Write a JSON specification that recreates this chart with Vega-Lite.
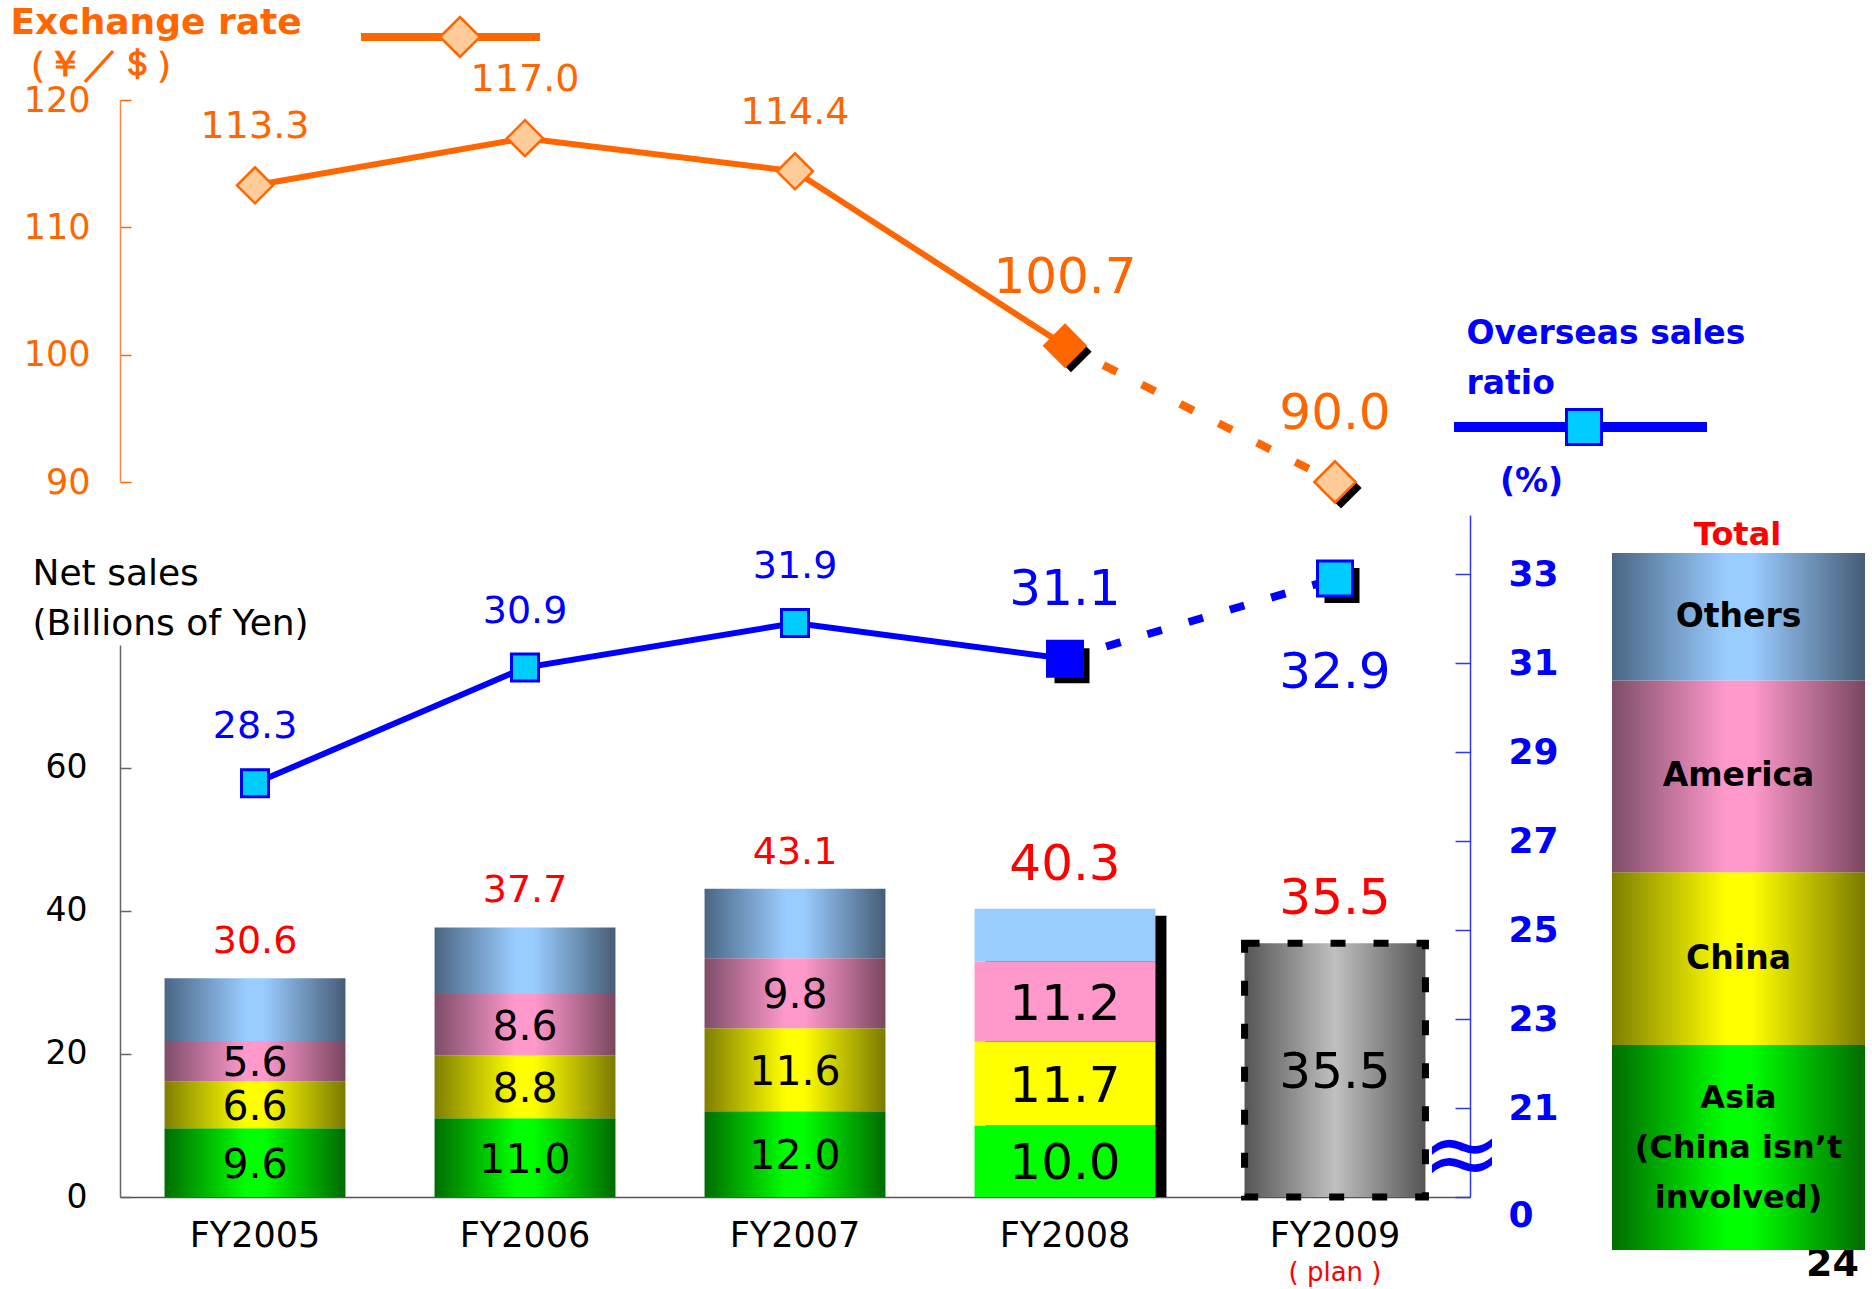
{
  "$schema": "https://vega.github.io/schema/vega-lite/v6.json",
  "width": 1350,
  "height": 1097,
  "autosize": {"type": "none"},
  "padding": {"left": 120, "top": 100, "right": 402, "bottom": 92},
  "background": "white",
  "config": {"font": "DejaVu Sans", "view": {"stroke": null}, "axis": {"grid": false}, "legend": {"padding": 0}},
  "datasets": {
    "years": [
      {"fy": "FY2005", "rate": 113.3, "ratio": 28.3, "total": 30.6, "status": "actual"},
      {"fy": "FY2006", "rate": 117.0, "ratio": 30.9, "total": 37.7, "status": "actual"},
      {"fy": "FY2007", "rate": 114.4, "ratio": 31.9, "total": 43.1, "status": "actual"},
      {"fy": "FY2008", "rate": 100.7, "ratio": 31.1, "total": 40.3, "status": "latest"},
      {"fy": "FY2009", "rate": 90.0, "ratio": 32.9, "total": 35.5, "status": "plan"}
    ],
    "sales": [
      {"fy": "FY2005", "region": "Asia", "value": 9.6},
      {"fy": "FY2005", "region": "China", "value": 6.6},
      {"fy": "FY2005", "region": "America", "value": 5.6},
      {"fy": "FY2005", "region": "Others", "value": 8.8},
      {"fy": "FY2006", "region": "Asia", "value": 11.0},
      {"fy": "FY2006", "region": "China", "value": 8.8},
      {"fy": "FY2006", "region": "America", "value": 8.6},
      {"fy": "FY2006", "region": "Others", "value": 9.3},
      {"fy": "FY2007", "region": "Asia", "value": 12.0},
      {"fy": "FY2007", "region": "China", "value": 11.6},
      {"fy": "FY2007", "region": "America", "value": 9.8},
      {"fy": "FY2007", "region": "Others", "value": 9.7},
      {"fy": "FY2008", "region": "Asia", "value": 10.0},
      {"fy": "FY2008", "region": "China", "value": 11.7},
      {"fy": "FY2008", "region": "America", "value": 11.2},
      {"fy": "FY2008", "region": "Others", "value": 7.4},
      {"fy": "FY2009", "region": "Total", "value": 35.5}
    ],
    "regions": [
      {"region": "Asia", "label": "Asia\n(China isn’t\ninvolved)", "share": 29.4},
      {"region": "China", "label": "China", "share": 24.8},
      {"region": "America", "label": "America", "share": 27.5},
      {"region": "Others", "label": "Others", "share": 18.3}
    ]
  },
  "resolve": {
    "scale": {"x": "independent", "y": "independent", "fill": "independent", "stroke": "independent"},
    "axis": {"x": "independent", "y": "independent"},
    "legend": {"fill": "independent", "stroke": "independent"}
  },
  "layer": [
    {
      "data": {"name": "sales"},
      "encoding": {
        "x": {"field": "fy", "type": "nominal",
          "scale": {"type": "band", "domain": ["FY2005", "FY2006", "FY2007", "FY2008", "FY2009"], "paddingInner": 0.33, "paddingOuter": 0.165},
          "axis": {"orient": "bottom", "title": null, "ticks": false, "domain": true, "domainColor": "#555555", "domainWidth": 1.5, "labelFontSize": 35, "labelPadding": 21, "labelColor": "#000000", "labelAngle": 0}}
      },
      "layer": [
        {
          "data": {"name": "years"},
          "transform": [{"filter": "datum.status === 'latest'"}],
          "mark": {"type": "bar", "color": "#000000", "xOffset": 11, "yOffset": 7, "clip": true},
          "encoding": {
            "y": {"field": "total", "type": "quantitative",
              "scale": {"domain": [0, 77.2], "range": [1097, 545], "zero": false, "nice": false},
              "axis": {"orient": "left", "values": [0, 20, 40, 60], "tickSize": -11, "tickWidth": 1.5, "tickColor": "#666666", "domainColor": "#666666", "domainWidth": 1.5, "labelPadding": 44, "labelFontSize": 33, "labelColor": "#000000", "grid": false,
                "title": ["Net sales", "(Billions of Yen)"], "titleX": -88, "titleY": 484, "titleAngle": 0, "titleAlign": "left", "titleBaseline": "alphabetic", "titleFontSize": 36, "titleFontWeight": "normal", "titleColor": "#000000", "titleLineHeight": 50, "titleLimit": 2000}}
          }
        },
        {
          "transform": [{"stack": "value", "groupby": ["fy"], "as": ["v0", "v1"]}, {"filter": "datum.region === 'Asia'"}],
          "mark": {"type": "bar"},
          "encoding": {
            "y": {"field": "v1", "type": "quantitative", "scale": {"domain": [0, 77.2], "range": [1097, 545], "zero": false, "nice": false}},
            "y2": {"field": "v0"},
            "fill": {"condition": {"test": "datum.fy === 'FY2008'", "value": "#00ff00"},
              "value": {"gradient": "linear", "x1": 0, "y1": 0, "x2": 1, "y2": 0, "stops": [{"offset": 0, "color": "#006d00"}, {"offset": 0.45, "color": "#00ff00"}, {"offset": 0.55, "color": "#00ff00"}, {"offset": 1, "color": "#006b00"}]}}
          }
        },
        {
          "transform": [{"stack": "value", "groupby": ["fy"], "as": ["v0", "v1"]}, {"filter": "datum.region === 'China'"}],
          "mark": {"type": "bar"},
          "encoding": {
            "y": {"field": "v1", "type": "quantitative", "scale": {"domain": [0, 77.2], "range": [1097, 545], "zero": false, "nice": false}},
            "y2": {"field": "v0"},
            "fill": {"condition": {"test": "datum.fy === 'FY2008'", "value": "#ffff00"},
              "value": {"gradient": "linear", "x1": 0, "y1": 0, "x2": 1, "y2": 0, "stops": [{"offset": 0, "color": "#7f7f00"}, {"offset": 0.45, "color": "#ffff00"}, {"offset": 0.55, "color": "#ffff00"}, {"offset": 1, "color": "#7a7a00"}]}}
          }
        },
        {
          "transform": [{"stack": "value", "groupby": ["fy"], "as": ["v0", "v1"]}, {"filter": "datum.region === 'America'"}],
          "mark": {"type": "bar"},
          "encoding": {
            "y": {"field": "v1", "type": "quantitative", "scale": {"domain": [0, 77.2], "range": [1097, 545], "zero": false, "nice": false}},
            "y2": {"field": "v0"},
            "fill": {"condition": {"test": "datum.fy === 'FY2008'", "value": "#ff99cc"},
              "value": {"gradient": "linear", "x1": 0, "y1": 0, "x2": 1, "y2": 0, "stops": [{"offset": 0, "color": "#7e4d68"}, {"offset": 0.45, "color": "#ff99cc"}, {"offset": 0.55, "color": "#ff99cc"}, {"offset": 1, "color": "#7a4760"}]}}
          }
        },
        {
          "transform": [{"stack": "value", "groupby": ["fy"], "as": ["v0", "v1"]}, {"filter": "datum.region === 'Others'"}],
          "mark": {"type": "bar"},
          "encoding": {
            "y": {"field": "v1", "type": "quantitative", "scale": {"domain": [0, 77.2], "range": [1097, 545], "zero": false, "nice": false}},
            "y2": {"field": "v0"},
            "fill": {"condition": {"test": "datum.fy === 'FY2008'", "value": "#99ccff"},
              "value": {"gradient": "linear", "x1": 0, "y1": 0, "x2": 1, "y2": 0, "stops": [{"offset": 0, "color": "#4a6684"}, {"offset": 0.45, "color": "#99ccff"}, {"offset": 0.55, "color": "#99ccff"}, {"offset": 1, "color": "#465d76"}]}}
          }
        },
        {
          "transform": [{"stack": "value", "groupby": ["fy"], "as": ["v0", "v1"]}, {"filter": "datum.region === 'Total'"}],
          "mark": {"type": "bar", "stroke": "#000000", "strokeWidth": 7, "strokeDash": [15, 28],
            "fill": {"gradient": "linear", "x1": 0, "y1": 0, "x2": 1, "y2": 0, "stops": [{"offset": 0, "color": "#555555"}, {"offset": 0.5, "color": "#c0c0c0"}, {"offset": 1, "color": "#555555"}]}},
          "encoding": {
            "y": {"field": "v1", "type": "quantitative", "scale": {"domain": [0, 77.2], "range": [1097, 545], "zero": false, "nice": false}},
            "y2": {"field": "v0"}
          }
        },
        {
          "transform": [
            {"stack": "value", "groupby": ["fy"], "as": ["v0", "v1"]},
            {"filter": "datum.region !== 'Others'"},
            {"fold": ["v0", "v1"], "as": ["edge", "pos"]},
            {"aggregate": [{"op": "mean", "field": "pos", "as": "mid"}], "groupby": ["fy", "region", "value"]}
          ],
          "mark": {"type": "text", "baseline": "middle", "dy": 3, "color": "#000000"},
          "encoding": {
            "y": {"field": "mid", "type": "quantitative", "scale": {"domain": [0, 77.2], "range": [1097, 545], "zero": false, "nice": false}},
            "text": {"field": "value", "type": "quantitative", "format": ".1f"},
            "size": {"condition": {"test": "datum.fy === 'FY2008' || datum.fy === 'FY2009'", "value": 50}, "value": 41}
          }
        },
        {
          "data": {"name": "years"},
          "transform": [{"filter": "datum.status === 'actual'"}],
          "mark": {"type": "text", "baseline": "middle", "dy": -36, "fontSize": 38, "color": "#ff0000"},
          "encoding": {
            "y": {"field": "total", "type": "quantitative", "scale": {"domain": [0, 77.2], "range": [1097, 545], "zero": false, "nice": false}},
            "text": {"field": "total", "type": "quantitative", "format": ".1f"}
          }
        },
        {
          "data": {"name": "years"},
          "transform": [{"filter": "datum.status !== 'actual'"}],
          "mark": {"type": "text", "baseline": "middle", "dy": -44, "fontSize": 50, "color": "#ff0000"},
          "encoding": {
            "y": {"field": "total", "type": "quantitative", "scale": {"domain": [0, 77.2], "range": [1097, 545], "zero": false, "nice": false}},
            "text": {"field": "total", "type": "quantitative", "format": ".1f"}
          }
        }
      ]
    },
    {
      "data": {"name": "regions"},
      "encoding": {
        "x": {"datum": "Total", "type": "nominal",
          "scale": {"type": "band", "domain": ["Total"], "range": [1492, 1745], "paddingInner": 0, "paddingOuter": 0},
          "axis": {"orient": "top", "domain": false, "ticks": false, "labels": false, "title": "Total", "titleX": 1617, "titleY": 434, "titleAngle": 0, "titleAlign": "center", "titleBaseline": "middle", "titleColor": "#ff0000", "titleFontSize": 32, "titleFontWeight": "bold"}}
      },
      "layer": [
        {
          "transform": [{"stack": "share", "groupby": [], "as": ["s0", "s1"]}, {"filter": "datum.region === 'Asia'"}],
          "mark": {"type": "bar", "fill": {"gradient": "linear", "x1": 0, "y1": 0, "x2": 1, "y2": 0, "stops": [{"offset": 0, "color": "#006d00"}, {"offset": 0.45, "color": "#00ff00"}, {"offset": 0.55, "color": "#00ff00"}, {"offset": 1, "color": "#006b00"}]}},
          "encoding": {
            "y": {"field": "s1", "type": "quantitative", "scale": {"domain": [0, 100], "range": [1150, 453], "zero": false, "nice": false},
              "axis": {"orient": "right", "domain": false, "ticks": false, "labels": false, "grid": false, "title": "24", "titleX": 362, "titleY": 1164, "titleAngle": 0, "titleAlign": "center", "titleBaseline": "middle", "titleColor": "#000000", "titleFontSize": 38, "titleFontWeight": "bold"}},
            "y2": {"field": "s0"}
          }
        },
        {
          "transform": [{"stack": "share", "groupby": [], "as": ["s0", "s1"]}, {"filter": "datum.region === 'China'"}],
          "mark": {"type": "bar", "fill": {"gradient": "linear", "x1": 0, "y1": 0, "x2": 1, "y2": 0, "stops": [{"offset": 0, "color": "#7f7f00"}, {"offset": 0.45, "color": "#ffff00"}, {"offset": 0.55, "color": "#ffff00"}, {"offset": 1, "color": "#7a7a00"}]}},
          "encoding": {
            "y": {"field": "s1", "type": "quantitative", "scale": {"domain": [0, 100], "range": [1150, 453], "zero": false, "nice": false}},
            "y2": {"field": "s0"}
          }
        },
        {
          "transform": [{"stack": "share", "groupby": [], "as": ["s0", "s1"]}, {"filter": "datum.region === 'America'"}],
          "mark": {"type": "bar", "fill": {"gradient": "linear", "x1": 0, "y1": 0, "x2": 1, "y2": 0, "stops": [{"offset": 0, "color": "#7e4d68"}, {"offset": 0.45, "color": "#ff99cc"}, {"offset": 0.55, "color": "#ff99cc"}, {"offset": 1, "color": "#7a4760"}]}},
          "encoding": {
            "y": {"field": "s1", "type": "quantitative", "scale": {"domain": [0, 100], "range": [1150, 453], "zero": false, "nice": false}},
            "y2": {"field": "s0"}
          }
        },
        {
          "transform": [{"stack": "share", "groupby": [], "as": ["s0", "s1"]}, {"filter": "datum.region === 'Others'"}],
          "mark": {"type": "bar", "fill": {"gradient": "linear", "x1": 0, "y1": 0, "x2": 1, "y2": 0, "stops": [{"offset": 0, "color": "#4a6684"}, {"offset": 0.45, "color": "#99ccff"}, {"offset": 0.55, "color": "#99ccff"}, {"offset": 1, "color": "#465d76"}]}},
          "encoding": {
            "y": {"field": "s1", "type": "quantitative", "scale": {"domain": [0, 100], "range": [1150, 453], "zero": false, "nice": false}},
            "y2": {"field": "s0"}
          }
        },
        {
          "transform": [
            {"stack": "share", "groupby": [], "as": ["s0", "s1"]},
            {"fold": ["s0", "s1"], "as": ["edge", "pos"]},
            {"aggregate": [{"op": "mean", "field": "pos", "as": "mid"}], "groupby": ["region", "label"]},
            {"filter": "datum.region !== 'Asia'"}
          ],
          "mark": {"type": "text", "baseline": "middle", "fontSize": 33, "fontWeight": "bold", "color": "#000000"},
          "encoding": {
            "y": {"field": "mid", "type": "quantitative", "scale": {"domain": [0, 100], "range": [1150, 453], "zero": false, "nice": false}},
            "text": {"field": "label", "type": "nominal"}
          }
        },
        {
          "transform": [
            {"stack": "share", "groupby": [], "as": ["s0", "s1"]},
            {"fold": ["s0", "s1"], "as": ["edge", "pos"]},
            {"aggregate": [{"op": "mean", "field": "pos", "as": "mid"}], "groupby": ["region", "label"]},
            {"filter": "datum.region === 'Asia'"}
          ],
          "mark": {"type": "text", "baseline": "middle", "dy": -50, "fontSize": 32, "fontWeight": "bold", "color": "#000000", "lineBreak": "\n", "lineHeight": 50},
          "encoding": {
            "y": {"field": "mid", "type": "quantitative", "scale": {"domain": [0, 100], "range": [1150, 453], "zero": false, "nice": false}},
            "text": {"field": "label", "type": "nominal"}
          }
        }
      ]
    },
    {
      "data": {"name": "years"},
      "encoding": {
        "x": {"field": "fy", "type": "nominal",
          "scale": {"type": "band", "domain": ["FY2005", "FY2006", "FY2007", "FY2008", "FY2009"], "paddingInner": 0.33, "paddingOuter": 0.165},
          "axis": {"orient": "top", "domain": false, "ticks": false, "labels": false, "title": "(%)", "titleX": 1411, "titleY": 381, "titleAngle": 0, "titleAlign": "center", "titleBaseline": "middle", "titleColor": "#0000ff", "titleFontSize": 33, "titleFontWeight": "bold"}},
        "y": {"field": "ratio", "type": "quantitative",
          "scale": {"domain": [19, 34.33], "range": [1097, 415], "zero": false, "nice": false},
          "axis": {"orient": "right", "values": [19, 21, 23, 25, 27, 29, 31, 33], "labelExpr": "datum.value === 19 ? '0' : datum.label", "tickSize": -15, "tickWidth": 1.5, "tickColor": "#3333ff", "domainColor": "#3333ff", "domainWidth": 1.5, "labelPadding": 53, "labelFontSize": 36, "labelFontWeight": "bold", "labelColor": "#0000ff", "grid": false,
            "labelOffset": {"condition": {"test": "datum.value === 19", "value": 18}, "value": 0},
            "title": ["Overseas sales", "ratio"], "titleX": -4, "titleY": 243, "titleAngle": 0, "titleAlign": "left", "titleBaseline": "alphabetic", "titleFontSize": 33, "titleFontWeight": "bold", "titleColor": "#0000ff", "titleLineHeight": 50, "titleLimit": 2000}}
      },
      "layer": [
        {
          "transform": [{"filter": "datum.status !== 'plan'"}],
          "mark": {"type": "line", "strokeWidth": 6},
          "encoding": {"stroke": {"datum": "Overseas sales ratio", "type": "nominal", "scale": {"range": ["#0000ff"]},
            "legend": {"orient": "none", "legendX": 1329, "legendY": 195.5, "title": null, "symbolType": "stroke", "symbolSize": 64009, "symbolStrokeWidth": 10, "symbolOffset": 0, "padding": 0, "labelExpr": "''", "labelFontSize": 1, "zindex": 1}}}
        },
        {
          "transform": [{"filter": "datum.status !== 'actual'"}],
          "mark": {"type": "line", "strokeWidth": 8, "strokeDash": [15, 28]},
          "encoding": {"stroke": {"datum": "Overseas sales ratio", "type": "nominal", "scale": {"range": ["#0000ff"]}}}
        },
        {
          "transform": [{"filter": "datum.status !== 'actual'"}],
          "mark": {"type": "point", "shape": "square", "filled": true, "color": "#000000", "opacity": 1, "size": 1225, "xOffset": 7, "yOffset": 7}
        },
        {
          "transform": [{"filter": "datum.status !== 'latest'"}],
          "mark": {"type": "point", "shape": "square", "filled": true, "stroke": "#0000ff", "strokeWidth": 3, "opacity": 1},
          "encoding": {
            "fill": {"datum": "Overseas sales ratio (%)", "type": "nominal", "scale": {"range": ["#00ccff"]},
              "legend": {"orient": "none", "legendX": 1445, "legendY": 308, "title": null, "symbolType": "square", "symbolSize": 1225, "symbolStrokeColor": "#0000ff", "symbolStrokeWidth": 3, "symbolOpacity": 1, "symbolOffset": 0, "padding": 0, "labelExpr": "''", "labelFontSize": 1, "zindex": 2}},
            "size": {"condition": {"test": "datum.status === 'plan'", "value": 1225}, "value": 729}
          }
        },
        {
          "transform": [{"filter": "datum.status === 'latest'"}],
          "mark": {"type": "point", "shape": "square", "filled": true, "fill": "#0000ff", "stroke": "#0000ff", "strokeWidth": 3, "opacity": 1, "size": 1225}
        },
        {
          "transform": [{"filter": "datum.status === 'actual'"}],
          "mark": {"type": "text", "fontSize": 38, "color": "#0000ff", "dy": -56, "baseline": "middle"},
          "encoding": {"text": {"field": "ratio", "type": "quantitative", "format": ".1f"}}
        },
        {
          "transform": [{"filter": "datum.status === 'latest'"}],
          "mark": {"type": "text", "fontSize": 50, "color": "#0000ff", "dy": -69, "baseline": "middle"},
          "encoding": {"text": {"field": "ratio", "type": "quantitative", "format": ".1f"}}
        },
        {
          "transform": [{"filter": "datum.status === 'plan'"}],
          "mark": {"type": "text", "fontSize": 50, "color": "#0000ff", "dy": 94, "baseline": "middle"},
          "encoding": {"text": {"field": "ratio", "type": "quantitative", "format": ".1f"}}
        },
        {
          "transform": [{"filter": "datum.status === 'plan'"}],
          "mark": {"type": "text", "fontSize": 96, "color": "#0000ff", "dx": 127, "dy": 0, "baseline": "middle"},
          "encoding": {"text": {"value": "≈"}, "y": {"datum": 19.9}}
        }
      ]
    },
    {
      "data": {"name": "years"},
      "encoding": {
        "x": {"field": "fy", "type": "nominal",
          "scale": {"type": "band", "domain": ["FY2005", "FY2006", "FY2007", "FY2008", "FY2009"], "paddingInner": 0.33, "paddingOuter": 0.165},
          "axis": {"orient": "bottom", "title": null, "domain": false, "ticks": false, "labelExpr": "datum.value === 'FY2009' ? '( plan )' : ''", "labelColor": "#ff0000", "labelFontSize": 26, "labelPadding": 62, "labelAngle": 0}},
        "y": {"field": "rate", "type": "quantitative",
          "scale": {"domain": [90, 120], "range": [382, 0], "zero": false, "nice": false},
          "axis": {"orient": "left", "values": [90, 100, 110, 120], "tickSize": -11, "tickWidth": 1.5, "tickColor": "#ff6600", "domainColor": "#ff8844", "domainWidth": 1.5, "labelPadding": 41, "labelFontSize": 35, "labelColor": "#ff6600", "grid": false,
            "title": ["Exchange rate", "（￥／＄）"], "titleX": -110, "titleY": -67, "titleAngle": 0, "titleAlign": "left", "titleBaseline": "alphabetic", "titleFontSize": 36, "titleFontWeight": "bold", "titleColor": "#ff6600", "titleLineHeight": 42, "titleLimit": 2000}}
      },
      "layer": [
        {
          "transform": [{"filter": "datum.status !== 'plan'"}],
          "mark": {"type": "line", "strokeWidth": 6},
          "encoding": {"stroke": {"datum": "Exchange rate", "type": "nominal", "scale": {"range": ["#ff6600"]},
            "legend": {"orient": "none", "legendX": 237, "legendY": -156.5, "title": null, "symbolType": "stroke", "symbolSize": 32041, "symbolStrokeWidth": 8, "symbolOffset": 0, "padding": 0, "labelExpr": "''", "labelFontSize": 1, "zindex": 1}}}
        },
        {
          "transform": [{"filter": "datum.status !== 'actual'"}],
          "mark": {"type": "line", "strokeWidth": 8, "strokeDash": [15, 28]},
          "encoding": {"stroke": {"datum": "Exchange rate", "type": "nominal", "scale": {"range": ["#ff6600"]}}}
        },
        {
          "transform": [{"filter": "datum.status !== 'actual'"}],
          "mark": {"type": "point", "shape": "diamond", "filled": true, "color": "#000000", "opacity": 1, "size": 1700, "xOffset": 6, "yOffset": 6}
        },
        {
          "transform": [{"filter": "datum.status !== 'latest'"}],
          "mark": {"type": "point", "shape": "diamond", "filled": true, "stroke": "#ff6600", "strokeWidth": 2.5, "opacity": 1},
          "encoding": {
            "fill": {"datum": "Exchange rate (¥/$)", "type": "nominal", "scale": {"range": ["#ffcc99"]},
              "legend": {"orient": "none", "legendX": 318.5, "legendY": -84.5, "title": null, "symbolType": "diamond", "symbolSize": 1600, "symbolStrokeColor": "#ff6600", "symbolStrokeWidth": 2.5, "symbolOpacity": 1, "symbolOffset": 0, "padding": 0, "labelExpr": "''", "labelFontSize": 1, "zindex": 2}},
            "size": {"condition": {"test": "datum.status === 'plan'", "value": 1700}, "value": 1300}
          }
        },
        {
          "transform": [{"filter": "datum.status === 'latest'"}],
          "mark": {"type": "point", "shape": "diamond", "filled": true, "fill": "#ff6600", "stroke": "#ff6600", "strokeWidth": 2.5, "opacity": 1, "size": 1700}
        },
        {
          "transform": [{"filter": "datum.status === 'actual'"}],
          "mark": {"type": "text", "fontSize": 38, "color": "#ff6600", "dy": -58, "baseline": "middle"},
          "encoding": {"text": {"field": "rate", "type": "quantitative", "format": ".1f"}}
        },
        {
          "transform": [{"filter": "datum.status !== 'actual'"}],
          "mark": {"type": "text", "fontSize": 50, "color": "#ff6600", "dy": -68, "baseline": "middle"},
          "encoding": {"text": {"field": "rate", "type": "quantitative", "format": ".1f"}}
        }
      ]
    }
  ]
}
